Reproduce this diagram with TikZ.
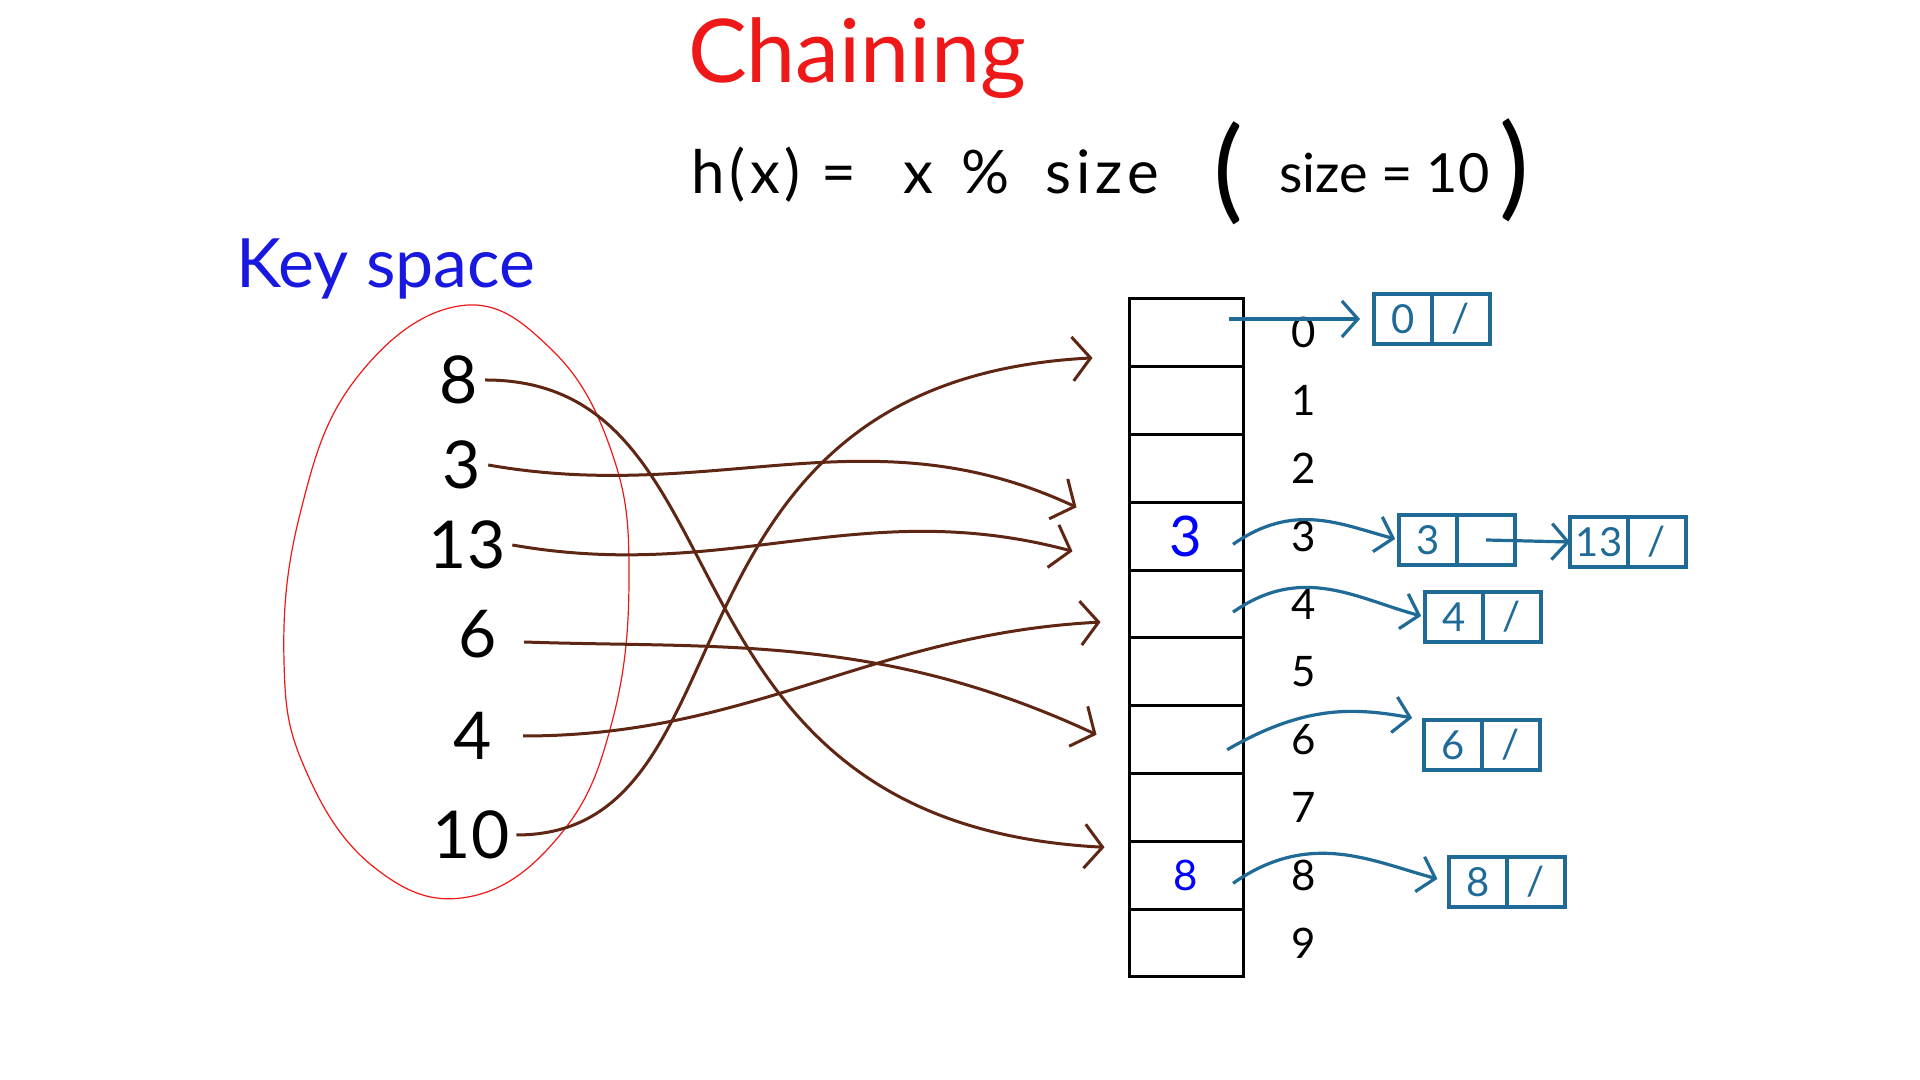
\documentclass[tikz,border=0pt]{standalone}
\usepackage{fontspec}
\setmainfont{Lato}
\newfontfamily\wideletters[LetterSpace=8]{Lato}
\usetikzlibrary{positioning,calc,arrows.meta}
\definecolor{inkred}{RGB}{238,24,24}
\definecolor{inkblue}{RGB}{24,24,225}
\definecolor{inkbrown}{RGB}{96,38,20}
\definecolor{inkteal}{RGB}{31,106,150}
\begin{document}
\begin{tikzpicture}[x=0.5pt,y=0.5pt,
  slot/.style={draw,line width=1.5pt,minimum width=57pt,minimum height=33.9pt,inner sep=0pt},
  key/.style={font=\fontsize{33}{33}\selectfont},
  idx/.style={font=\fontsize{21}{21}\selectfont},
  cell/.style={draw=inkteal,line width=1.6pt,outer sep=0pt,minimum width=29pt,minimum height=25pt,inner sep=0pt,text=inkteal,font=\fontsize{20}{20}\selectfont},
  keyarrow/.style={draw=inkbrown,line width=1.5pt,-{Straight Barb[length=9pt,width=22pt]}},
  chainarrow/.style={draw=inkteal,line width=1.6pt,-{Straight Barb[length=8pt,width=18pt]}}]
  \fill[white] (0,0) rectangle (1920,1080);
  \useasboundingbox (0,0) rectangle (1920,1080);
  % title and hash function
  \node[text=inkred,font=\fontsize{44}{44}\selectfont] (title) at (857,1022) {Chaining};
  \node[anchor=base west,font=\fontsize{30}{30}\wideletters] (hashfn) at (684,886) {h(x) =\hspace{24pt}x\hspace{14pt}\%\hspace{18pt}size};
  \node[font=\fontsize{56}{56}\selectfont] (lpar) at (1228,907) {(};
  \node[anchor=base west,font=\fontsize{27}{27}\selectfont] (sizeeq) at (1272,887) {size = 10};
  \node[font=\fontsize{56}{56}\selectfont] (rpar) at (1514,910) {)};
  % key space
  \node[anchor=base west,text=inkblue,font=\fontsize{34}{34}\selectfont] (keyspace) at (229,792) {Key space};
  \draw[inkred,line width=0.6pt] plot[smooth cycle,tension=0.7] coordinates {(459,774) (551,731) (612,627) (629,504) (612,358) (560,245) (468,183) (375,212) (306,309) (284,419) (300,566) (355,700)};
  \node[key] (k8) at (459,700) {8};
  \node[key] (k3) at (462,615) {3};
  \node[key] (k13) at (467,535) {13};
  \node[key] (k6) at (478,446) {6};
  \node[key] (k4) at (473,344) {4};
  \node[key] (k10) at (471,245) {10};
  % hash table with its indices
  \foreach \i in {0,...,9} {
    \node[slot] (slot\i) at (1186,{747.1-67.8*\i}) {};
    \node[idx,right=20pt of slot\i] (idx\i) {\i};
  }
  \node[text=blue,font=\fontsize{28}{28}\selectfont] (in3) at (slot3) {3};
  \node[text=blue,font=\fontsize{21}{21}\selectfont] (in8) at (slot8) {8};
  % chained lists
  \node[cell] (n0d) at (1403,761) {0};
  \node[cell,right=0pt of n0d] (n0p) {/};
  \node[cell] (n3d) at (1428,540) {3};
  \node[cell,right=0pt of n3d] (n3p) {};
  \node[cell] (n13d) at (1599,538) {13};
  \node[cell,right=0pt of n13d] (n13p) {/};
  \node[cell] (n4d) at (1454,463) {4};
  \node[cell,right=0pt of n4d] (n4p) {/};
  \node[cell] (n6d) at (1453,335) {6};
  \node[cell,right=0pt of n6d] (n6p) {/};
  \node[cell] (n8d) at (1478,198) {8};
  \node[cell,right=0pt of n8d] (n8p) {/};
  % slots to lists
  \draw[chainarrow,shorten <=-8pt,shorten >=7pt] (slot0.east |- n0d.west) -- (n0d.west);
  \draw[chainarrow,shorten <=-7pt,shorten >=2pt] (slot3.east) to[out=35,in=165] (n3d.west);
  \draw[chainarrow,shorten <=-7pt,shorten >=2pt] (slot4.east) to[out=35,in=165] (n4d.west);
  \draw[chainarrow,shorten <=-10pt,shorten >=6pt] (slot6.east) to[out=30,in=170] (n6d.north west);
  \draw[chainarrow,shorten <=-7pt,shorten >=6pt] (slot8.east) to[out=35,in=165] (n8d.west);
  \draw[chainarrow] (n3p.center) -- (n13d.west);
  % keys to slots
  \draw[keyarrow] (k8.east) to[out=0,in=177,out distance=137pt,in distance=233pt] ($(slot8.west)+(-23,28)$);
  \draw[keyarrow] (k3.east) to[out=-10,in=155] ($(slot3.west)+(-51,29)$);
  \draw[keyarrow] (k13.east) to[out=-10,in=165] ($(slot3.west)+(-55,-15)$);
  \draw[keyarrow] ([xshift=10pt,yshift=-4pt]k6.east) to[out=-2,in=155,out distance=96pt,in distance=120pt] ($(slot6.west)+(-31,5)$);
  \draw[keyarrow] ([xshift=12pt]k4.east) to[out=0,in=183] ($(slot4.west)+(-27,-18)$);
  \draw[keyarrow] (k10.east) to[out=0,in=183,out distance=123pt,in distance=227pt] ($(slot0.west)+(-35,-25)$);
\end{tikzpicture}
\end{document}
